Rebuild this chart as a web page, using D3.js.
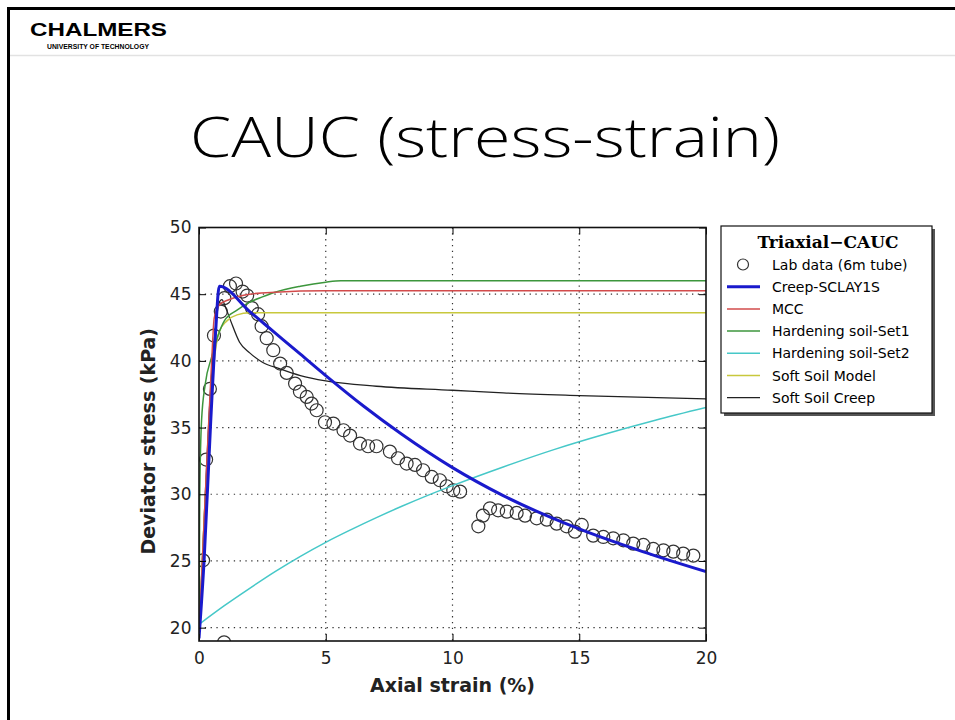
<!DOCTYPE html>
<html>
<head>
<meta charset="utf-8">
<script src="https://cdn.jsdelivr.net/npm/d3@7"></script>
<style>
  body { margin: 0; background: white; }
  svg { display: block; }
</style>
</head>
<body>
<script>
const width = 955, height = 720;

// lab data (6m tube)
const labX = [0.16, 0.28, 0.43, 0.59, 0.86, 1.0, 1.22, 1.46, 1.72, 1.9, 2.09, 2.33, 2.47, 2.67, 2.93, 3.2, 3.46, 3.79, 3.98, 4.25, 4.44, 4.64, 4.97,
              5.3, 5.7, 5.96, 6.35, 6.67, 7.0, 7.53, 7.85, 8.19, 8.52, 8.84, 9.18, 9.5, 9.77, 10.03, 10.3,
              11.02, 11.2, 11.48, 11.8, 12.14, 12.53, 12.86, 13.32, 13.72, 14.11, 14.5, 14.83, 15.1, 15.55, 15.95, 16.34, 16.74,
              17.13, 17.53, 17.92, 18.32, 18.71, 19.1, 19.5, 0.99];
const labY = [25.05, 32.6, 37.9, 41.9, 43.7, 44.7, 45.6, 45.8, 45.2, 44.9, 43.96, 43.5, 42.6, 41.7, 40.8, 39.8, 39.1, 38.3, 37.7, 37.3, 36.8, 36.3, 35.4,
              35.3, 34.8, 34.4, 33.8, 33.6, 33.6, 33.2, 32.7, 32.3, 32.2, 31.8, 31.3, 31.05, 30.6, 30.3, 30.2,
              27.6, 28.4, 28.95, 28.8, 28.7, 28.6, 28.4, 28.2, 28.1, 27.8, 27.6, 27.2, 27.7, 26.9, 26.8, 26.7, 26.55,
              26.3, 26.2, 25.9, 25.8, 25.7, 25.55, 25.4, 18.9];

// model curves
const creepX = [0, 0.2, 0.45, 0.65, 0.8, 2, 3, 4, 5, 6.5, 8, 10, 12, 15, 17.5, 20];
const creepY = [19.2, 25, 35, 42, 45.6, 43.7, 42.1, 40.5, 38.9, 36.6, 34.5, 32.0, 29.9, 27.4, 25.7, 24.2];

const mccX = [0, 0.3, 0.5, 0.6, 0.8, 1.2, 2, 3, 5, 20];
const mccY = [19.5, 32, 40, 43.2, 44.2, 44.6, 45.0, 45.15, 45.25, 45.25];

const hs1X = [0, 0.03, 0.1, 0.25, 0.5, 0.75, 1, 1.5, 2, 2.5, 3, 4, 5, 5.6, 20];
const hs1Y = [19.5, 30, 35.5, 38.3, 40.3, 41.9, 43.0, 43.8, 44.4, 44.8, 45.15, 45.6, 45.9, 46.0, 46.0];

const hs2X = [0, 1, 2, 3, 4, 5, 6, 7, 8, 9, 10, 12, 14, 16, 18, 20];
const hs2Y = [20.25, 21.65, 22.95, 24.2, 25.35, 26.4, 27.35, 28.25, 29.1, 29.9, 30.65, 32.05, 33.35, 34.5, 35.55, 36.5];

const ssmX = [0, 0.2, 0.4, 0.6, 0.8, 1.1, 1.5, 2, 20];
const ssmY = [19.5, 28, 35, 40, 42.2, 43.0, 43.45, 43.6, 43.6];

const sscX = [0, 0.2, 0.4, 0.6, 0.8, 0.9, 1.05, 1.25, 1.6, 2.0, 2.5, 3.2, 4, 5, 7, 10, 12, 15, 20];
const sscY = [19.5, 28, 36, 41.5, 44.4, 44.6, 44.0, 43.0, 41.4, 40.6, 39.9, 39.4, 38.9, 38.5, 38.1, 37.8, 37.6, 37.4, 37.15];

const xTicks = [0, 5, 10, 15, 20];
const yTicks = [20, 25, 30, 35, 40, 45, 50];

const series = [
  {name: "Creep-SCLAY1S", xs: creepX, ys: creepY, color: "#1a1acc", w: 3},
  {name: "MCC", xs: mccX, ys: mccY, color: "#d24b4b", w: 1.5},
  {name: "Hardening soil-Set1", xs: hs1X, ys: hs1Y, color: "#3c963c", w: 1.5},
  {name: "Hardening soil-Set2", xs: hs2X, ys: hs2Y, color: "#46c8c8", w: 1.5},
  {name: "Soft Soil Model", xs: ssmX, ys: ssmY, color: "#c8c83c", w: 1.5},
  {name: "Soft Soil Creep", xs: sscX, ys: sscY, color: "#222222", w: 1.3}
];

const svg = d3.select("body").append("svg")
    .attr("width", width).attr("height", height);

// slide chrome
svg.append("line").attr("x1", 8).attr("x2", width).attr("y1", 8.5).attr("y2", 8.5)
    .attr("stroke", "black").attr("stroke-width", 3);
svg.append("line").attr("x1", 8.5).attr("x2", 8.5).attr("y1", 7).attr("y2", height)
    .attr("stroke", "black").attr("stroke-width", 3);
svg.append("line").attr("x1", 10).attr("x2", width).attr("y1", 55.5).attr("y2", 55.5)
    .attr("stroke", "#e2e2e2").attr("stroke-width", 1.5);

svg.append("text").attr("x", 30).attr("y", 36)
    .attr("textLength", 137).attr("lengthAdjust", "spacingAndGlyphs")
    .style("font-family", "Liberation Sans, Arial, sans-serif").style("font-weight", "bold")
    .style("font-size", "19px").text("CHALMERS");
svg.append("text").attr("x", 47).attr("y", 48.5)
    .attr("textLength", 102).attr("lengthAdjust", "spacingAndGlyphs")
    .style("font-family", "Liberation Sans, Arial, sans-serif").style("font-weight", "bold")
    .style("font-size", "7.5px").text("UNIVERSITY OF TECHNOLOGY");

svg.append("text").attr("x", 485).attr("y", 157)
    .attr("text-anchor", "middle")
    .attr("textLength", 590).attr("lengthAdjust", "spacingAndGlyphs")
    .style("font-family", "Open Sans, Liberation Sans, sans-serif").style("font-weight", 300)
    .style("font-size", "55px").text("CAUC (stress-strain)");

// plot
const plotL = 199, plotR = 706, plotT = 227.5, plotB = 641;
const x = d3.scaleLinear().domain([0, 20]).range([plotL, plotR]);
const y = d3.scaleLinear().domain([19, 50]).range([plotB, plotT]);

svg.append("defs").append("clipPath").attr("id", "plotclip")
  .append("rect").attr("x", plotL).attr("y", plotT).attr("width", plotR - plotL).attr("height", plotB - plotT);

const grid = svg.append("g");
grid.selectAll(".gx").data(xTicks.slice(1, -1)).join("line")
    .attr("x1", d => x(d)).attr("x2", d => x(d)).attr("y1", plotT).attr("y2", plotB)
    .attr("stroke", "#333").attr("stroke-width", 1.2).attr("stroke-dasharray", "1.3,4.5");
grid.selectAll(".gy").data(yTicks.slice(0, -1)).join("line")
    .attr("x1", plotL).attr("x2", plotR).attr("y1", d => y(d)).attr("y2", d => y(d))
    .attr("stroke", "#333").attr("stroke-width", 1.2).attr("stroke-dasharray", "1.3,4.5");

const plot = svg.append("g").attr("clip-path", "url(#plotclip)");

plot.selectAll("circle.lab").data(labX.map((v, i) => [v, labY[i]])).join("circle")
    .attr("class", "lab")
    .attr("cx", d => x(d[0])).attr("cy", d => y(d[1])).attr("r", 6.5)
    .attr("fill", "none").attr("stroke", "#333").attr("stroke-width", 1.2);

const line = d3.line().x(d => x(d[0])).y(d => y(d[1])).curve(d3.curveMonotoneX);
for (const s of series.slice().reverse()) {
  plot.append("path")
      .datum(s.xs.map((v, i) => [v, s.ys[i]]))
      .attr("d", line)
      .attr("fill", "none").attr("stroke", s.color).attr("stroke-width", s.w);
}

// axes (inward ticks on all sides)
const tickFont = g => g.selectAll("text")
    .style("font-family", "DejaVu Sans, sans-serif").style("font-size", "17px").attr("fill", "#222");

svg.append("g").attr("transform", `translate(0,${plotB})`)
    .call(d3.axisBottom(x).tickValues(xTicks).tickSizeInner(-7).tickSizeOuter(0).tickPadding(10.5))
    .call(g => g.select(".domain").remove())
    .call(tickFont);
svg.append("g").attr("transform", `translate(0,${plotT})`)
    .call(d3.axisTop(x).tickValues(xTicks).tickSizeInner(-7).tickSizeOuter(0).tickFormat(""))
    .call(g => g.select(".domain").remove());
svg.append("g").attr("transform", `translate(${plotL},0)`)
    .call(d3.axisLeft(y).tickValues(yTicks).tickSizeInner(-7).tickSizeOuter(0).tickPadding(7.5))
    .call(g => g.select(".domain").remove())
    .call(tickFont);
svg.append("g").attr("transform", `translate(${plotR},0)`)
    .call(d3.axisRight(y).tickValues(yTicks).tickSizeInner(-7).tickSizeOuter(0).tickFormat(""))
    .call(g => g.select(".domain").remove());

svg.append("rect").attr("x", plotL).attr("y", plotT).attr("width", plotR - plotL).attr("height", plotB - plotT)
    .attr("fill", "none").attr("stroke", "#111").attr("stroke-width", 1.6);

svg.append("text").attr("x", x(10)).attr("y", 692).attr("text-anchor", "middle")
    .style("font-family", "DejaVu Sans, sans-serif").style("font-weight", "bold").style("font-size", "19px")
    .attr("fill", "#222").text("Axial strain (%)");
svg.append("text").attr("transform", `translate(155,${(plotT + plotB) / 2 + 7}) rotate(-90)`)
    .attr("text-anchor", "middle")
    .style("font-family", "DejaVu Sans, sans-serif").style("font-weight", "bold").style("font-size", "19px")
    .attr("fill", "#222").text("Deviator stress (kPa)");

// legend
const lg = svg.append("g").attr("transform", "translate(721,226)");
lg.append("rect").attr("x", 3).attr("y", 3).attr("width", 211).attr("height", 187).attr("fill", "#555");
lg.append("rect").attr("x", 0).attr("y", 0).attr("width", 211).attr("height", 187)
    .attr("fill", "white").attr("stroke", "#111").attr("stroke-width", 1.2);
lg.append("text").attr("x", 107).attr("y", 22).attr("text-anchor", "middle")
    .style("font-family", "DejaVu Serif, serif").style("font-weight", "bold").style("font-size", "17px")
    .text("Triaxial\u2212CAUC");

const rowY = i => 38.5 + i * 22.2;
lg.append("circle").attr("cx", 22).attr("cy", rowY(0)).attr("r", 5.5)
    .attr("fill", "none").attr("stroke", "#333").attr("stroke-width", 1.2);
lg.append("text").attr("x", 51).attr("y", rowY(0) + 5)
    .style("font-family", "DejaVu Sans, sans-serif").style("font-size", "14px").text("Lab data (6m tube)");
series.forEach((s, i) => {
  lg.append("line").attr("x1", 6).attr("x2", 39).attr("y1", rowY(i + 1)).attr("y2", rowY(i + 1))
      .attr("stroke", s.color).attr("stroke-width", s.w);
  lg.append("text").attr("x", 51).attr("y", rowY(i + 1) + 5)
      .style("font-family", "DejaVu Sans, sans-serif").style("font-size", "14px").text(s.name);
});
</script>
</body>
</html>
